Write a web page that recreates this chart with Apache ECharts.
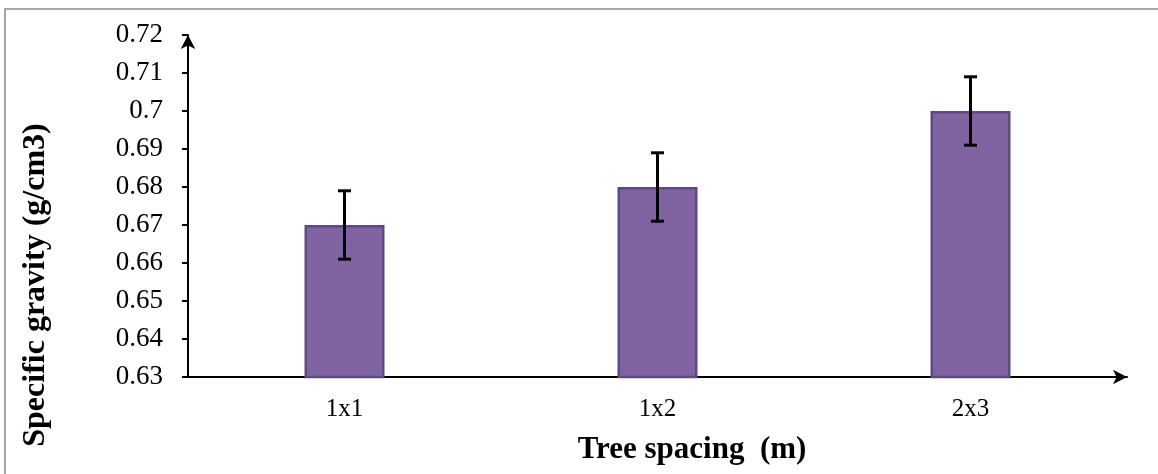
<!DOCTYPE html>
<html>
<head>
<meta charset="utf-8">
<script src="https://cdn.jsdelivr.net/npm/echarts@6/dist/echarts.min.js"></script>
<style>
  html, body { margin: 0; padding: 0; background: #fff; }
  #chart { width: 1158px; height: 474px; }
</style>
</head>
<body>
<div id="chart"></div>
<script>
// data
const categories = ['1x1', '1x2', '2x3'];
const gravity = [0.67, 0.68, 0.70];
const errLow = [0.661, 0.671, 0.691];
const errHigh = [0.679, 0.689, 0.709];
const yTicks = [0.63, 0.72, 0.01]; // min, max, step

const serif = '"Liberation Serif", "Times New Roman", serif';

var myChart = echarts.init(document.getElementById('chart'));
myChart.setOption({
  animation: false,
  grid: { left: 188, right: 31, top: 35, bottom: 97 },
  graphic: [
    {
      type: 'rect',
      shape: { x: 5, y: 9, width: 1300, height: 600 },
      style: { fill: 'none', stroke: '#a6a6a6', lineWidth: 2 }
    },
    {
      type: 'text',
      x: 36, y: 285,
      rotation: Math.PI / 2,
      style: {
        text: 'Specific gravity (g/cm3)',
        font: 'bold 32px ' + serif,
        fill: '#000',
        align: 'center',
        verticalAlign: 'middle'
      }
    },
    {
      type: 'text',
      x: 692, y: 450,
      style: {
        text: 'Tree spacing  (m)',
        font: 'bold 31px ' + serif,
        fill: '#000',
        align: 'center',
        verticalAlign: 'middle'
      }
    }
  ],
  xAxis: {
    type: 'category',
    data: categories,
    axisLine: {
      symbol: ['none', 'arrow'],
      symbolSize: [11, 14],
      lineStyle: { color: '#000', width: 2 }
    },
    axisTick: { show: false },
    axisLabel: { fontFamily: serif, fontSize: 25, color: '#000', margin: 20 }
  },
  yAxis: {
    type: 'value',
    min: yTicks[0],
    max: yTicks[1],
    interval: yTicks[2],
    axisLine: {
      show: true,
      symbol: ['none', 'arrow'],
      symbolSize: [11, 14],
      lineStyle: { color: '#000', width: 2 }
    },
    axisTick: { show: true, length: 6, lineStyle: { color: '#000', width: 2 } },
    splitLine: { show: false },
    axisLabel: {
      fontFamily: serif, fontSize: 27, color: '#000', margin: 25,
      formatter: v => String(parseFloat(v.toFixed(2)))
    }
  },
  series: [
    {
      type: 'bar',
      data: gravity,
      barWidth: 80,
      itemStyle: { color: '#8064a2', borderColor: '#5d4a7e', borderWidth: 2.5 }
    },
    {
      type: 'custom',
      data: categories.map((c, i) => [i, errLow[i], errHigh[i]]),
      z: 10,
      renderItem: function (params, api) {
        const lo = api.coord([api.value(0), api.value(1)]);
        const hi = api.coord([api.value(0), api.value(2)]);
        const w = 6.5;
        const st = { stroke: '#000', lineWidth: 3 };
        return {
          type: 'group',
          children: [
            { type: 'line', shape: { x1: hi[0], y1: hi[1], x2: lo[0], y2: lo[1] }, style: st },
            { type: 'line', shape: { x1: hi[0] - w, y1: hi[1], x2: hi[0] + w, y2: hi[1] }, style: st },
            { type: 'line', shape: { x1: lo[0] - w, y1: lo[1], x2: lo[0] + w, y2: lo[1] }, style: st }
          ]
        };
      }
    }
  ]
});
</script>
</body>
</html>
